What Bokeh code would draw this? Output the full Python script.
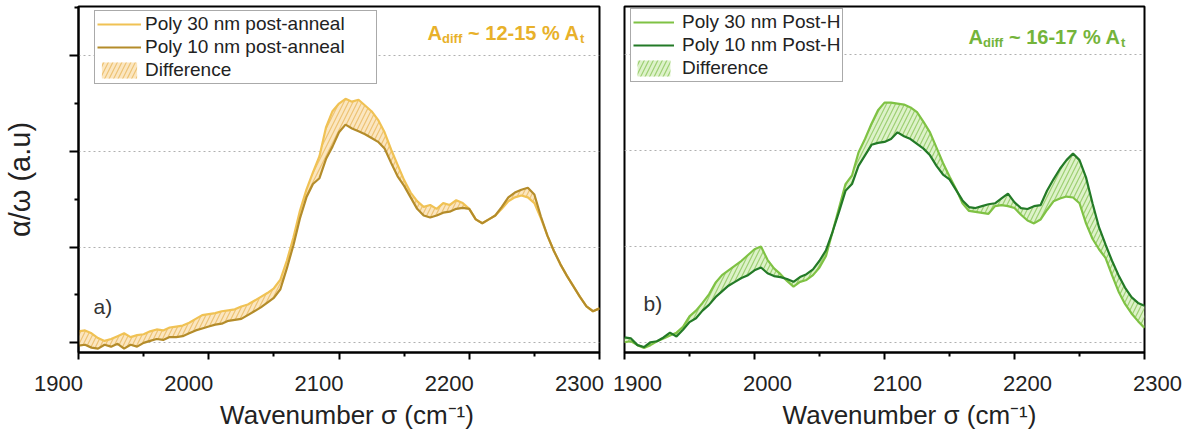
from bokeh.plotting import figure
from bokeh.layouts import row, column
from bokeh.models import Range1d, FixedTicker, Legend, LegendItem, Label
from bokeh.core.properties import value
from bokeh.embed import file_html
from bokeh.resources import INLINE

# ---------------- data ----------------
wavenumber = list(range(1900, 2305, 5))

anneal_30nm = [0.12, 0.13, 0.10, 0.05, 0.02, 0.04, 0.07, 0.10, 0.06, 0.08,
               0.09, 0.12, 0.14, 0.13, 0.16, 0.17, 0.18, 0.21, 0.25, 0.29,
               0.30, 0.31, 0.33, 0.34, 0.35, 0.38, 0.40, 0.44, 0.48, 0.52,
               0.57, 0.66, 0.86, 1.10, 1.38, 1.60, 1.78, 1.95, 2.25, 2.42,
               2.50, 2.55, 2.52, 2.54, 2.48, 2.42, 2.33, 2.20, 2.02, 1.86,
               1.70, 1.57, 1.48, 1.42, 1.44, 1.40, 1.46, 1.44, 1.49, 1.46,
               1.40, 1.29, 1.25, 1.29, 1.33, 1.40, 1.48, 1.52, 1.54, 1.52,
               1.46, 1.30, 1.12, 0.96, 0.82, 0.70, 0.59, 0.48, 0.38, 0.33,
               0.36]
anneal_10nm = [-0.03, -0.02, -0.05, -0.06, -0.02, -0.04, -0.01, -0.06, -0.02, -0.04,
               0.00, 0.02, 0.04, 0.03, 0.06, 0.06, 0.07, 0.10, 0.13, 0.15,
               0.17, 0.19, 0.20, 0.23, 0.24, 0.25, 0.29, 0.33, 0.37, 0.42,
               0.47, 0.56, 0.78, 1.02, 1.30, 1.52, 1.66, 1.72, 1.92, 2.05,
               2.20, 2.28, 2.24, 2.21, 2.18, 2.14, 2.10, 2.03, 1.88, 1.74,
               1.64, 1.52, 1.40, 1.33, 1.31, 1.33, 1.36, 1.37, 1.40, 1.41,
               1.40, 1.29, 1.25, 1.29, 1.33, 1.42, 1.52, 1.57, 1.60, 1.62,
               1.55, 1.32, 1.12, 0.96, 0.82, 0.70, 0.59, 0.48, 0.38, 0.33,
               0.36]

postH_30nm = [0.00, 0.01, -0.03, -0.06, -0.03, 0.01, 0.04, 0.07, 0.10, 0.16,
              0.27, 0.33, 0.41, 0.50, 0.62, 0.70, 0.75, 0.80, 0.85, 0.91,
              0.97, 1.00, 0.86, 0.77, 0.71, 0.64, 0.58, 0.63, 0.65, 0.70,
              0.78, 0.90, 1.15, 1.40, 1.65, 1.74, 1.98, 2.12, 2.28, 2.42,
              2.50, 2.50, 2.49, 2.48, 2.45, 2.40, 2.30, 2.19, 2.03, 1.87,
              1.73, 1.60, 1.45, 1.37, 1.36, 1.35, 1.34, 1.42, 1.43, 1.42,
              1.40, 1.33, 1.27, 1.24, 1.28, 1.38, 1.47, 1.50, 1.52, 1.51,
              1.45, 1.24, 1.08, 0.97, 0.88, 0.70, 0.53, 0.40, 0.30, 0.22,
              0.15]
postH_10nm = [0.05, 0.04, -0.03, -0.05, 0.00, 0.01, 0.05, 0.10, 0.06, 0.13,
              0.21, 0.25, 0.33, 0.39, 0.47, 0.53, 0.59, 0.63, 0.67, 0.70,
              0.75, 0.78, 0.72, 0.69, 0.68, 0.66, 0.63, 0.68, 0.71, 0.76,
              0.85, 0.96, 1.15, 1.36, 1.58, 1.65, 1.84, 1.95, 2.06, 2.08,
              2.09, 2.12, 2.19, 2.15, 2.12, 2.07, 2.02, 1.95, 1.84, 1.75,
              1.70, 1.59, 1.48, 1.41, 1.40, 1.42, 1.44, 1.45, 1.50, 1.55,
              1.46, 1.40, 1.39, 1.42, 1.43, 1.58, 1.70, 1.81, 1.90, 1.97,
              1.90, 1.72, 1.45, 1.20, 1.02, 0.85, 0.70, 0.57, 0.47, 0.41,
              0.38]

x_major = [1900, 2000, 2100, 2200, 2300]
x_minor = [1950, 2050, 2150, 2250]
y_major = [0, 1, 2, 3]
y_minor = [0.5, 1.5, 2.5, 3.5]
x_title = "Wavenumber σ (cm⁻¹)"
y_title = "α/ω (a.u)"

FONT = "Liberation Sans"
TXT = "#222222"
GOLD_LIGHT, GOLD_DARK, GOLD_FILL, GOLD_HATCH, GOLD_TEXT = "#F0C254", "#B48C2A", "#FBE6C0", "#EDC274", "#E8B12A"
GRN_LIGHT, GRN_DARK, GRN_FILL, GRN_HATCH, GRN_TEXT = "#7FC244", "#237A27", "#DDF2C9", "#9DCF72", "#74B43A"

TOP_H = 362      # height of the plotting row (frame bottom at 352 + ticks)
BOT_H = 74       # height of the strip carrying tick labels and the axis title


def style_common(p, y_lo, y_hi):
    p.x_range = Range1d(1900, 2300)
    p.y_range = Range1d(y_lo, y_hi)
    p.outline_line_color = "black"
    p.outline_line_width = 2
    p.outline_line_alpha = 1
    p.xgrid.visible = False
    p.ygrid.ticker = FixedTicker(ticks=y_major)
    p.ygrid.grid_line_color = "#B0B0B0"
    p.ygrid.grid_line_dash = "2 3"
    p.ygrid.grid_line_width = 1
    ax = p.xaxis[0]
    ax.ticker = FixedTicker(ticks=x_major, minor_ticks=x_minor)
    ax.major_label_overrides = {v: "" for v in x_major}
    ax.major_label_text_font_size = "1px"
    ax.major_label_standoff = 0
    ax.axis_line_width = 2
    ax.major_tick_line_width = 2
    ax.minor_tick_line_width = 2
    ax.major_tick_in = 0
    ax.major_tick_out = 7
    ax.minor_tick_in = 0
    ax.minor_tick_out = 4


def label_strip(width, x_lo, x_hi, lab_shift, title_shift):
    """Strip under a panel: tick labels and axis title, on the panel's own x scale."""
    q = figure(width=width, height=BOT_H, output_backend="svg", toolbar_location=None,
               x_axis_location=None, y_axis_location=None,
               x_range=Range1d(x_lo, x_hi), y_range=Range1d(0, BOT_H),
               min_border_left=0, min_border_right=0, min_border_top=0, min_border_bottom=0)
    q.outline_line_color = None
    q.xgrid.visible = False
    q.ygrid.visible = False
    q.text(x=x_major, y=[BOT_H - 21] * len(x_major), text=[str(v) for v in x_major],
           x_offset=lab_shift, text_align="center", text_baseline="middle",
           text_font=value(FONT), text_font_size="22px", text_color=TXT)
    q.text(x=[2100], y=[22], text=[x_title], x_offset=title_shift,
           text_align="center", text_baseline="middle",
           text_font=value(FONT), text_font_size="26px", text_color=TXT)
    return q


def add_panel(p, y30, y10, c_light, c_dark, c_fill, c_hatch, lab30, lab10, leg_loc,
              glyph_w, standoff, label_w):
    area = p.varea(x=wavenumber, y1=y10, y2=y30, fill_color=c_fill, fill_alpha=1,
                   hatch_pattern="/", hatch_color=c_hatch, hatch_scale=9,
                   hatch_weight=1.2, hatch_alpha=1)
    l30 = p.line(wavenumber, y30, line_color=c_light, line_width=2.2)
    l10 = p.line(wavenumber, y10, line_color=c_dark, line_width=2.2)
    legend = Legend(items=[LegendItem(label=lab30, renderers=[l30]),
                           LegendItem(label=lab10, renderers=[l10]),
                           LegendItem(label="Difference", renderers=[area])],
                    location=leg_loc)
    legend.label_text_font = FONT
    legend.label_text_font_size = "19px"
    legend.label_text_color = TXT
    legend.label_height = 22
    legend.glyph_height = 20
    legend.glyph_width = glyph_w
    legend.label_width = label_w
    legend.label_standoff = standoff
    legend.spacing = 1
    legend.padding = 2
    legend.margin = 0
    legend.border_line_color = "#555555"
    legend.border_line_width = 1
    legend.background_fill_color = "white"
    legend.background_fill_alpha = 1
    p.add_layout(legend)


def add_annotation(p, x, y, color, rng):
    common = dict(x=x, y=y, text_font=FONT, text_font_style="bold", text_color=color,
                  text_baseline="alphabetic", text_align="left")
    p.add_layout(Label(text="A", text_font_size="20px", x_offset=0, **common))
    p.add_layout(Label(text="diff", text_font_size="13px", x_offset=14.5, y_offset=-5, **common))
    p.add_layout(Label(text="~ " + rng + " % A", text_font_size="20px", x_offset=40.5, **common))
    p.add_layout(Label(text="t", text_font_size="13px", x_offset=152.5, y_offset=-5, **common))


# ---------------- panel a ----------------
p1 = figure(width=611, height=TOP_H, output_backend="svg", toolbar_location=None,
            min_border_left=78, min_border_right=12, min_border_top=6, min_border_bottom=10)
style_common(p1, -0.101, 3.514)
ya = p1.yaxis[0]
ya.ticker = FixedTicker(ticks=y_major, minor_ticks=y_minor)
ya.major_label_overrides = {0: "", 1: "", 2: "", 3: ""}
ya.major_label_text_font_size = "1px"
ya.major_label_standoff = 0
ya.axis_label = y_title
ya.axis_label_text_font = FONT
ya.axis_label_text_font_style = "normal"
ya.axis_label_text_font_size = "29px"
ya.axis_label_text_color = TXT
ya.axis_label_standoff = 34
ya.axis_line_width = 2
ya.major_tick_line_width = 2
ya.minor_tick_line_width = 2
ya.major_tick_in = 0
ya.major_tick_out = 9
ya.minor_tick_in = 0
ya.minor_tick_out = 4

add_panel(p1, anneal_30nm, anneal_10nm, GOLD_LIGHT, GOLD_DARK, GOLD_FILL, GOLD_HATCH,
          "Poly 30 nm post-anneal", "Poly 10 nm post-anneal", (16, 268), 44, 4, 229)
add_annotation(p1, 2168, 3.233, GOLD_TEXT, "12-15")
p1.add_layout(Label(x=1911.5, y=0.377, text="a)", text_font=FONT, text_font_size="21px",
                    text_color="#333333", text_baseline="alphabetic"))

# ---------------- panel b ----------------
p2 = figure(width=545, height=TOP_H, output_backend="svg", toolbar_location=None,
            y_axis_location=None,
            min_border_left=13, min_border_right=12, min_border_top=3, min_border_bottom=10)
style_common(p2, -0.107, 3.503)
add_panel(p2, postH_30nm, postH_10nm, GRN_LIGHT, GRN_DARK, GRN_FILL, GRN_HATCH,
          "Poly 30 nm Post-H", "Poly 10 nm Post-H", (6, 270), 41, 8, 20)
add_annotation(p2, 2164.6, 3.18, GRN_TEXT, "16-17")
p2.add_layout(Label(x=1914.6, y=0.40, text="b)", text_font=FONT, text_font_size="21px",
                    text_color="#333333", text_baseline="alphabetic"))

# ---------------- label strips (same px-per-unit as the panels above) ----------------
s1 = 521 / 400.0   # px per cm-1, panel a (frame 78..599)
s2 = 520 / 400.0   # px per cm-1, panel b (frame 624..1144)
q1 = label_strip(611, 1900 - 78 / s1, 1900 + (611 - 78) / s1, -20, 8)
q2 = label_strip(581, 1900 - 13 / s2, 1900 + (581 - 13) / s2, 13, 25)

layout = column(row(p1, p2), row(q1, q2))
open("out.html", "w").write(file_html(layout, INLINE))
